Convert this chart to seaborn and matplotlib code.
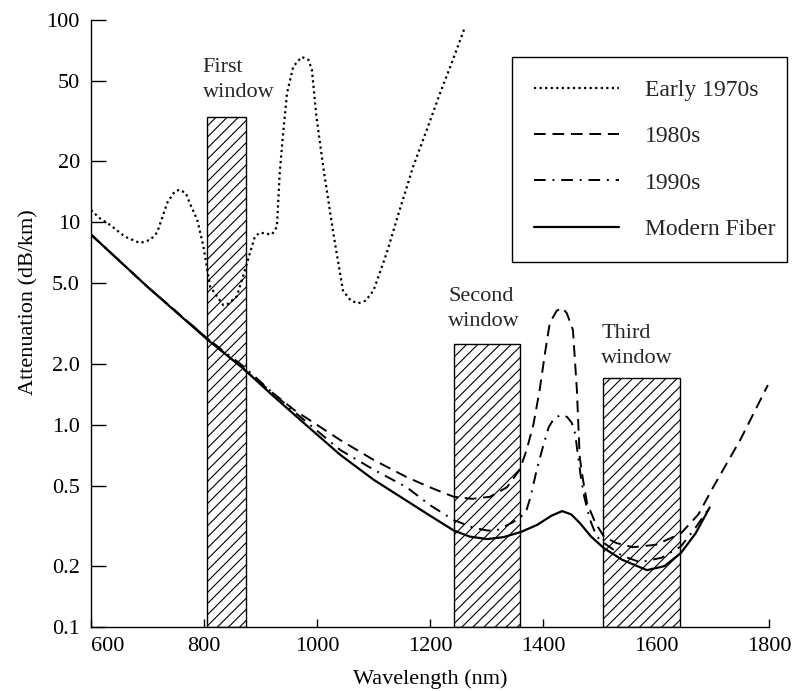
import matplotlib
matplotlib.use("Agg")
import matplotlib.pyplot as plt
import seaborn as sns
from matplotlib.ticker import NullLocator

# ---------------- data ----------------
wl_70s = [600, 615, 634, 660, 687, 705, 717, 735, 748, 757, 768, 775, 788, 799, 805, 811, 823, 834, 842, 858,
          869, 881, 890, 899, 920, 929, 934, 940, 947, 958, 973, 985, 991, 999, 1011, 1029, 1046, 1060, 1073, 1086,
          1100, 1123, 1145, 1170, 1195, 1218, 1240, 1262]
att_70s = [11.5, 10.5, 9.7, 8.5, 7.9, 8.2, 8.9, 12.5, 14.2, 14.5, 13.9, 12.4, 10.3, 7.6, 6.0, 4.8, 4.3, 3.9, 3.95, 4.3,
           5.4, 7.0, 8.5, 8.9, 8.7, 9.5, 17.5, 27.5, 43.6, 58.9, 65.7, 63.5, 56.6, 33.3, 18.8, 8.8, 4.6, 4.1, 3.98, 4.1,
           4.6, 7.0, 11.2, 18.8, 29, 43.6, 63, 92.5]

wl_80s = [600, 700, 807, 893, 960, 1041, 1100, 1159, 1200, 1242, 1275, 1306, 1336, 1359, 1371, 1383, 1394, 1404, 1412, 1424,
          1434, 1442, 1453, 1460, 1465, 1471, 1478, 1492, 1508, 1530, 1559, 1600, 1644, 1675, 1701, 1750, 1798]
att_80s = [8.7, 4.8, 2.65, 1.66, 1.18, 0.84, 0.67, 0.55, 0.49, 0.44, 0.43, 0.44, 0.49, 0.6, 0.75, 1.0, 1.48, 2.3, 3.18, 3.65,
           3.78, 3.56, 2.94, 1.48, 0.69, 0.53, 0.41, 0.33, 0.279, 0.26, 0.248, 0.255, 0.29, 0.36, 0.49, 0.85, 1.57]

wl_90s = [600, 700, 807, 869, 950, 1041, 1100, 1159, 1200, 1242, 1276, 1301, 1318, 1347, 1361, 1371, 1378, 1389, 1400, 1410,
          1420, 1434, 1443, 1451, 1457, 1462, 1467, 1473, 1483, 1495, 1508, 1540, 1572, 1610, 1644, 1670, 1695]
att_90s = [8.7, 4.8, 2.65, 1.95, 1.22, 0.75, 0.6, 0.49, 0.4, 0.338, 0.31, 0.30, 0.30, 0.33, 0.35, 0.38, 0.44, 0.6, 0.78, 0.97,
           1.08, 1.12, 1.09, 1.02, 0.9, 0.7, 0.55, 0.44, 0.34, 0.28, 0.26, 0.225, 0.209, 0.22, 0.25, 0.31, 0.39]

wl_modern = [600, 700, 807, 869, 922, 980, 1041, 1100, 1159, 1200, 1242, 1270, 1301, 1330, 1361, 1390, 1415, 1434, 1450, 1465,
             1485, 1508, 1540, 1584, 1615, 1644, 1670, 1695]
att_modern = [8.7, 4.8, 2.62, 1.9, 1.39, 1.0, 0.71, 0.535, 0.42, 0.355, 0.30, 0.28, 0.272, 0.278, 0.295, 0.32, 0.355, 0.374, 0.36, 0.327,
              0.28, 0.245, 0.215, 0.191, 0.2, 0.232, 0.29, 0.39]

series_labels = ["Early 1970s", "1980s", "1990s", "Modern Fiber"]

win_start = [805, 1242, 1507]
win_end = [874, 1360, 1643]
win_top = [33.3, 2.5, 1.7]
win_labels = ["First\nwindow", "Second\nwindow", "Third\nwindow"]
win_label_x = [798, 1232, 1503]
win_label_y = [50.6, 3.73, 2.45]

xticks = [600, 800, 1000, 1200, 1400, 1600, 1800]
yticks = [0.1, 0.2, 0.5, 1.0, 2.0, 5.0, 10, 20, 50, 100]
ytick_labels = ["0.1", "0.2", "0.5", "1.0", "2.0", "5.0", "10", "20", "50", "100"]

# ---------------- style ----------------
sns.set_style("ticks")
plt.rcParams["font.family"] = ["Liberation Serif", "DejaVu Serif"]
plt.rcParams["hatch.linewidth"] = 0.8
plt.rcParams["hatch.color"] = "black"

FS = 16

fig = plt.figure(figsize=(7.94, 6.91), dpi=100)
ax = fig.add_axes([91 / 794, 1 - 627 / 691, 678 / 794, 607 / 691])
ax.set_yscale("log")

# windows
ax.bar(win_start, [t - 0.1 for t in win_top], width=[e - s for s, e in zip(win_start, win_end)],
       bottom=0.1, align="edge", color="white", edgecolor="black", linewidth=1.0, hatch="///", zorder=1)
for x, y, t in zip(win_label_x, win_label_y, win_labels):
    ax.text(x, y, t, ha="left", va="center", fontsize=FS, linespacing=1.42, zorder=4)

# curves
styles = [(0, (1, 1.5)), (0, (6, 3.5)), (0, (6, 3.5, 1, 3.5)), "-"]
widths = [1.6, 1.4, 1.4, 1.6]
for (xs, ys), lab, ls, lw in zip([(wl_70s, att_70s), (wl_80s, att_80s), (wl_90s, att_90s), (wl_modern, att_modern)],
                                 series_labels, styles, widths):
    sns.lineplot(x=xs, y=ys, ax=ax, color="black", linestyle=ls, linewidth=lw, label=lab, zorder=3,
                 estimator=None, sort=False)

ax.set_xlim(600, 1800)
ax.set_ylim(0.1, 100)
ax.set_xticks(xticks)
ax.set_xticklabels([str(v) for v in xticks])
ax.get_xticklabels()[0].set_horizontalalignment("left")
ax.set_yticks(yticks)
ax.set_yticklabels(ytick_labels)
ax.yaxis.set_minor_locator(NullLocator())
ax.xaxis.set_minor_locator(NullLocator())

ax.tick_params(axis="x", direction="in", length=6, width=1, pad=7, labelsize=FS, color="black", labelcolor="black")
ax.tick_params(axis="y", direction="in", length=11, width=1, pad=8, labelsize=FS, color="black", labelcolor="black")
for s in ["top", "right"]:
    ax.spines[s].set_visible(False)
for s in ["left", "bottom"]:
    ax.spines[s].set_color("black")
    ax.spines[s].set_linewidth(1.0)

ax.set_xlabel("Wavelength (nm)", fontsize=FS, color="black")
ax.set_ylabel("Attenuation (dB/km)", fontsize=FS, color="black")
ax.yaxis.set_label_coords(-0.078, 0.535)
ax.xaxis.set_label_coords(0.5, -0.069)

leg = ax.legend(loc="upper left", bbox_to_anchor=(512 / 794, 1 - 264 / 691, 275 / 794, 207 / 691),
                bbox_transform=fig.transFigure, mode="expand", borderaxespad=0, fontsize=17,
                handlelength=3.6, handletextpad=1.1, labelspacing=1.05, borderpad=0.95,
                fancybox=False, framealpha=1, edgecolor="black")
leg.get_frame().set_linewidth(1.0)

fig.savefig("out.png", dpi=100)
